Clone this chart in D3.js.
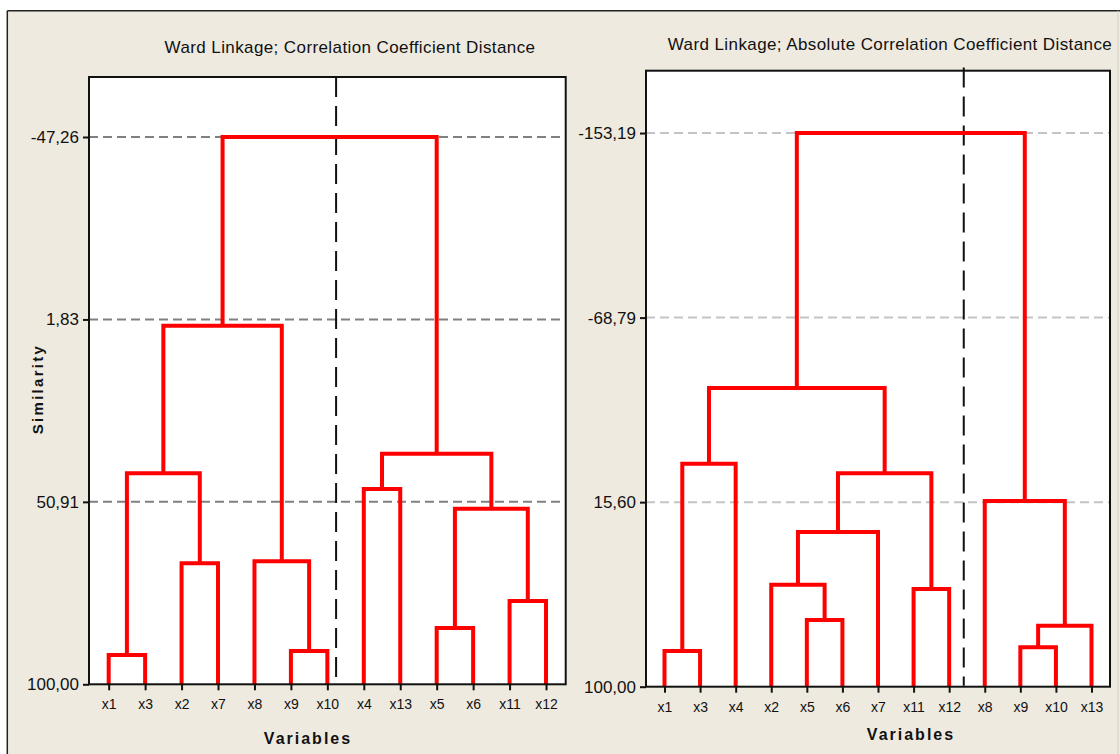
<!DOCTYPE html>
<html>
<head>
<meta charset="utf-8">
<script src="https://cdn.jsdelivr.net/npm/d3@7"></script>
<style>
  html, body { margin: 0; padding: 0; background: #ffffff; }
  svg { display: block; }
  text { font-family: "Liberation Sans", Arial, sans-serif; fill: #111; }
</style>
</head>
<body>
<svg id="chart" width="1120" height="754"></svg>
<script>
// ---------------- DATA ----------------
// Left dendrogram: Ward linkage, correlation coefficient distance
const titleL = "Ward Linkage; Correlation Coefficient Distance";
const leavesL = ["x1","x3","x2","x7","x8","x9","x10","x4","x13","x5","x6","x11","x12"];
// merges: [child A, child B, similarity]; a number refers to an earlier merge index
const mergesL = [
  ["x1","x3",92.12],
  ["x9","x10",91.04],
  ["x5","x6",84.85],
  ["x11","x12",77.59],
  ["x2","x7",67.44],
  ["x8",1,66.91],
  [2,3,52.75],
  ["x4","x13",47.45],
  [0,4,43.23],
  [7,6,37.95],
  [8,5,3.51],
  [10,9,-47.26]
];
const ticksL = [-47.26, 1.83, 50.91, 100.00];
const cutL = 6.24;       // dashed cut line position, in leaf-index units

// Right dendrogram: Ward linkage, absolute correlation coefficient distance
const titleR = "Ward Linkage; Absolute Correlation Coefficient Distance";
const leavesR = ["x1","x3","x4","x2","x5","x6","x7","x11","x12","x8","x9","x10","x13"];
const mergesR = [
  ["x1","x3",83.68],
  ["x9","x10",81.98],
  [1,"x13",72.11],
  ["x5","x6",69.50],
  ["x11","x12",55.33],
  ["x2",3,53.36],
  [5,"x7",29.26],
  ["x8",2,15.09],
  [6,4,2.42],
  [0,"x4",-1.97],
  [9,8,-36.58],
  [10,7,-153.19]
];
const ticksR = [-153.19, -68.79, 15.60, 100.00];
const cutR = 8.41;

const leafSimilarity = 100;
const yLabel = "Similarity";
const xLabel = "Variables";

// ---------------- LAYOUT ----------------
const svg = d3.select("#chart");
const W = 1120, H = 754;
const beige = "#eeeae0";

svg.append("rect").attr("x", 7.3).attr("y", 10.7).attr("width", W - 7.3).attr("height", H - 10.7)
  .attr("fill", beige);
svg.append("line").attr("x1", 7.3).attr("x2", W).attr("y1", 10.7).attr("y2", 10.7)
  .attr("stroke", "#222").attr("stroke-width", 1.5);
svg.append("line").attr("x1", 7.3).attr("x2", 7.3).attr("y1", 10.7).attr("y2", H)
  .attr("stroke", "#222").attr("stroke-width", 1.5);
svg.append("line").attr("x1", 1118).attr("x2", 1118).attr("y1", 10.7).attr("y2", H)
  .attr("stroke", "#d6d2c8").attr("stroke-width", 1);

const fmt = v => d3.format(".2f")(v).replace(".", ",").replace("\u2212", "-");

function drawPanel(cfg) {
  const { box, yTop, leaves, merges, ticks, cut, title, titleX, titleY, titleLS,
          gridColor, xLabelX, xLabelY, showYLabel, cutTop } = cfg;
  const g = svg.append("g");

  const x = d3.scalePoint().domain(leaves).range([box.left, box.right]).padding(cfg.pad);
  const y = d3.scaleLinear().domain([leafSimilarity, yTop]).range([box.bottom, box.top]);

  // plot background
  g.append("rect").attr("x", box.left).attr("y", box.top)
    .attr("width", box.right - box.left).attr("height", box.bottom - box.top)
    .attr("fill", "#fff");

  // horizontal dashed reference lines
  g.selectAll(".grid").data(ticks.filter(t => t !== leafSimilarity)).enter().append("line")
    .attr("x1", box.left).attr("x2", box.right)
    .attr("y1", d => y(d)).attr("y2", d => y(d))
    .attr("stroke", gridColor).attr("stroke-width", 2).attr("stroke-dasharray", "9,5");

  // vertical dashed cut line
  const i0 = Math.floor(cut), fr = cut - i0;
  const cx = x(leaves[i0]) + fr * x.step();
  g.append("line").attr("x1", cx).attr("x2", cx).attr("y1", cutTop).attr("y2", box.bottom - 1)
    .attr("stroke", "#111").attr("stroke-width", 2).attr("stroke-dasharray", "20,9");

  // dendrogram
  const nodes = [];
  const pos = c => typeof c === "number" ? nodes[c] : { x: x(c), h: leafSimilarity };
  merges.forEach(m => {
    const a = pos(m[0]), b = pos(m[1]);
    const h = m[2];
    nodes.push({ x: (a.x + b.x) / 2, h: h, a: a, b: b });
  });
  g.selectAll(".link").data(nodes).enter().append("path")
    .attr("d", d => `M${d.a.x},${y(d.a.h)}V${y(d.h)}H${d.b.x}V${y(d.b.h)}`)
    .attr("fill", "none").attr("stroke", "#ff0000").attr("stroke-width", 4)
    .attr("stroke-linejoin", "miter").attr("stroke-linecap", "butt");

  // frame
  g.append("rect").attr("x", box.left).attr("y", box.top)
    .attr("width", box.right - box.left).attr("height", box.bottom - box.top)
    .attr("fill", "none").attr("stroke", "#111").attr("stroke-width", 2);

  // y axis
  const yAxis = d3.axisLeft(y).tickValues(ticks).tickFormat(fmt).tickSize(6).tickPadding(4);
  const ya = g.append("g").attr("transform", `translate(${box.left},0)`).call(yAxis);
  ya.select(".domain").remove();
  ya.selectAll(".tick line").attr("stroke", "#111").attr("stroke-width", 2);
  ya.selectAll(".tick text").attr("font-size", 17).attr("fill", "#111")
    .attr("font-family", "'Liberation Sans', Arial, sans-serif");

  // x axis
  const xAxis = d3.axisBottom(x).tickSize(6).tickPadding(9);
  const xa = g.append("g").attr("transform", `translate(0,${box.bottom})`).call(xAxis);
  xa.select(".domain").remove();
  xa.selectAll(".tick line").attr("stroke", "#111").attr("stroke-width", 2);
  xa.selectAll(".tick text").attr("font-size", 14).attr("fill", "#111")
    .attr("font-family", "'Liberation Sans', Arial, sans-serif");

  // title
  g.append("text").attr("x", titleX).attr("y", titleY).attr("text-anchor", "middle")
    .attr("font-size", 17).attr("letter-spacing", titleLS).text(title);

  // x label
  g.append("text").attr("x", xLabelX).attr("y", xLabelY).attr("text-anchor", "middle")
    .attr("font-size", 16).attr("font-weight", "bold").attr("letter-spacing", 2).text(xLabel);

  if (showYLabel) {
    g.append("text").attr("transform", `translate(43,389) rotate(-90)`)
      .attr("text-anchor", "middle").attr("font-size", 15).attr("font-weight", "bold")
      .attr("letter-spacing", 2.3).text(yLabel);
  }
}

drawPanel({
  box: { left: 89, top: 77, right: 565.7, bottom: 684.3 },
  pad: 0.54,
  yTop: -63.4,
  leaves: leavesL, merges: mergesL, ticks: ticksL, cut: cutL, cutTop: 77,
  title: titleL, titleX: 350, titleY: 53, titleLS: 0.4,
  gridColor: "#808080",
  xLabelX: 308, xLabelY: 744, showYLabel: true
});

drawPanel({
  box: { left: 646, top: 70.7, right: 1110, bottom: 686.7 },
  pad: 0.52,
  yTop: -181.7,
  leaves: leavesR, merges: mergesR, ticks: ticksR, cut: cutR, cutTop: 67.5,
  title: titleR, titleX: 890, titleY: 49.5, titleLS: 0.4,
  gridColor: "#c4c4c4",
  xLabelX: 911, xLabelY: 740, showYLabel: false
});
</script>
</body>
</html>
